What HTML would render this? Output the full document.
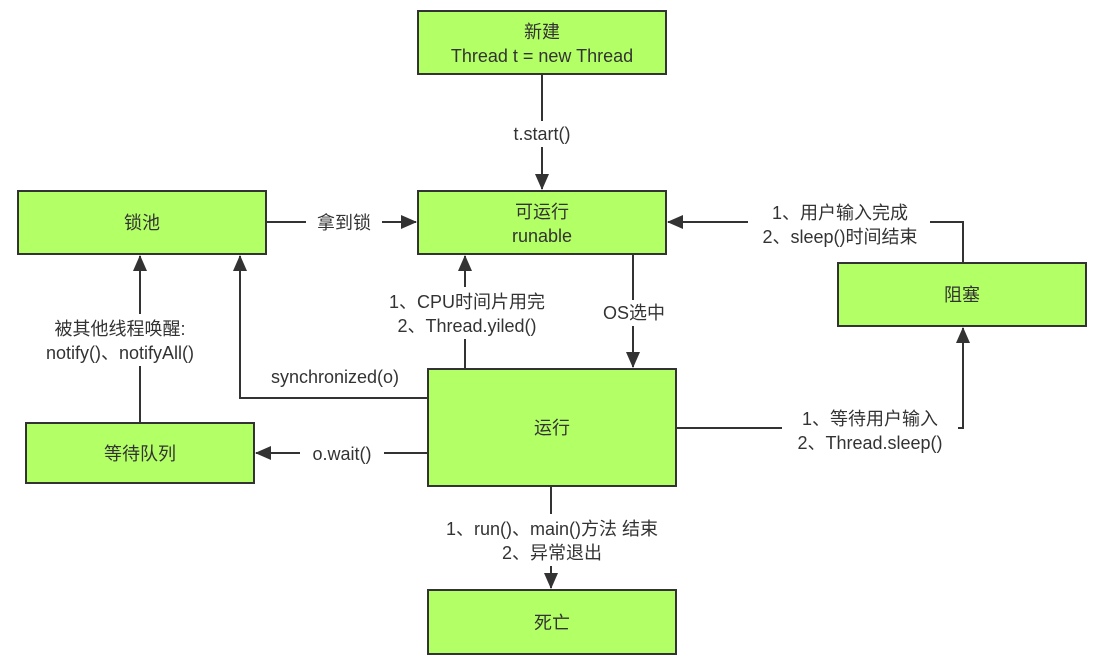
<!DOCTYPE html>
<html><head><meta charset="utf-8"><style>
html,body{margin:0;padding:0;background:#fff;}
svg text{font-family:"Liberation Sans","Noto Sans CJK SC",sans-serif;font-size:18px;fill:#333;text-anchor:middle;}
</style></head><body>
<svg width="1118" height="664" viewBox="0 0 1118 664" xmlns="http://www.w3.org/2000/svg">
<defs><marker id="a" markerWidth="16" markerHeight="14" refX="15" refY="7" orient="auto" markerUnits="userSpaceOnUse"><path d="M0,0 L16,7 L0,14 Z" fill="#333"/></marker></defs>
<g fill="#b3ff66" stroke="#333" stroke-width="2">
<rect x="418" y="11" width="248" height="63"/>
<rect x="418" y="191" width="248" height="63"/>
<rect x="18" y="191" width="248" height="63"/>
<rect x="838" y="263" width="248" height="63"/>
<rect x="428" y="369" width="248" height="117"/>
<rect x="26" y="423" width="228" height="60"/>
<rect x="428" y="590" width="248" height="64"/>
</g>
<g fill="none" stroke="#333" stroke-width="2" marker-end="url(#a)">
<path d="M542,74 V189"/>
<path d="M266,222 H416"/>
<path d="M963,263 V222 H668"/>
<path d="M633,254 V367"/>
<path d="M465,369 V256"/>
<path d="M428,398 H240 V256"/>
<path d="M428,453 H256"/>
<path d="M140,423 V256"/>
<path d="M676,428 H963 V328"/>
<path d="M551,486 V588"/>
</g>
<g fill="#fff">
<rect x="502" y="121" width="80" height="26"/>
<rect x="306" y="210" width="76" height="26"/>
<rect x="748" y="198" width="182" height="52"/>
<rect x="598" y="300" width="72" height="26"/>
<rect x="378" y="287" width="178" height="52"/>
<rect x="300" y="440" width="84" height="26"/>
<rect x="24" y="314" width="194" height="52"/>
<rect x="782" y="404" width="176" height="52"/>
<rect x="426" y="514" width="252" height="52"/>
</g>
<text x="542" y="38">新建</text>
<text x="542" y="62">Thread t = new Thread</text>
<text x="542" y="218">可运行</text>
<text x="542" y="242">runable</text>
<text x="142" y="229">锁池</text>
<text x="962" y="301">阻塞</text>
<text x="552" y="434">运行</text>
<text x="140" y="460">等待队列</text>
<text x="552" y="629">死亡</text>
<text x="542" y="140">t.start()</text>
<text x="344" y="229">拿到锁</text>
<text x="840" y="219">1、用户输入完成</text>
<text x="840" y="243">2、sleep()时间结束</text>
<text x="634" y="319">OS选中</text>
<text x="467" y="308">1、CPU时间片用完</text>
<text x="467" y="332">2、Thread.yiled()</text>
<text x="335" y="383">synchronized(o)</text>
<text x="342" y="460">o.wait()</text>
<text x="120" y="335">被其他线程唤醒:</text>
<text x="120" y="359">notify()、notifyAll()</text>
<text x="870" y="425">1、等待用户输入</text>
<text x="870" y="449">2、Thread.sleep()</text>
<text x="552" y="535">1、run()、main()方法 结束</text>
<text x="552" y="559">2、异常退出</text>
</svg>
</body></html>
